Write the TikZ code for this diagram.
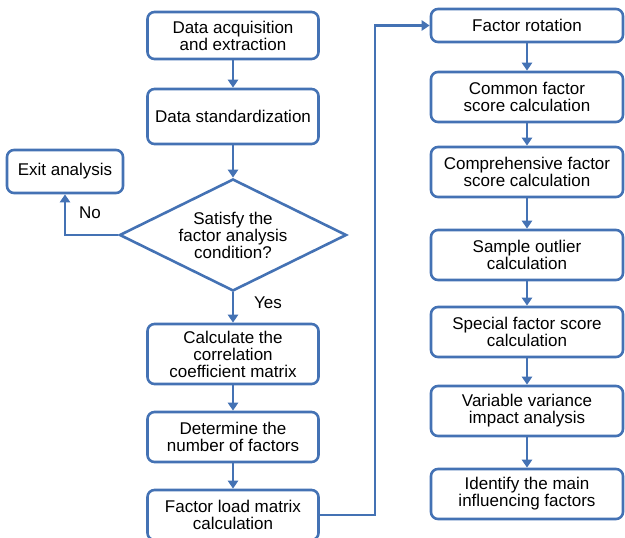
\documentclass[tikz,border=0pt]{standalone}
\usepackage{fontspec}
\setmainfont{Liberation Sans}
\usetikzlibrary{shapes.geometric,arrows.meta}
\definecolor{flowblue}{RGB}{68,114,180}

\begin{document}
\begin{tikzpicture}[x=1pt,y=-1pt]
        \tikzstyle{every node}+=[inner sep=0pt, font=\fontsize{17}{17}\selectfont]
        \tikzstyle{stepbox}=[draw=flowblue, line width=2.6pt, rounded corners=7pt, fill=white, align=center, minimum width=171pt]
        \tikzstyle{rightbox}=[stepbox, minimum width=192pt, minimum height=50pt]
        \tikzstyle{flow}=[draw=flowblue, line width=2.4pt, -{Triangle[length=8pt,width=10pt]}]
        \useasboundingbox (0,0) rectangle (625,538);
        % left column
        \node [stepbox, minimum height=47pt] (acq) at (233,35.5) {Data acquisition\\and extraction};
        \node [stepbox, minimum height=55pt] (std) at (233,116.5) {Data standardization};
        \node [diamond, aspect=2, draw=flowblue, line width=2.6pt, align=center, minimum width=227pt, minimum height=112pt] (cond) at (233,235) {Satisfy the\\factor analysis\\condition?};
        \node [stepbox, minimum width=116pt, minimum height=43pt] (exit) at (65,171.5) {Exit analysis};
        \node [stepbox, minimum height=60pt] (corr) at (233,354) {Calculate the\\correlation\\coefficient matrix};
        \node [stepbox, minimum height=50pt] (num) at (233,437) {Determine the\\number of factors};
        \node [stepbox, minimum height=50pt] (load) at (233,515) {Factor load matrix\\calculation};
        \node (no) at (90,213) {No};
        \node (yes) at (268,303) {Yes};
        % right column
        \node [rightbox, minimum height=33pt] (rot) at (527,25.5) {Factor rotation};
        \node [rightbox] (common) at (527,97) {Common factor\\score calculation};
        \node [rightbox] (compr) at (527,172) {Comprehensive factor\\score calculation};
        \node [rightbox] (outlier) at (527,255) {Sample outlier\\calculation};
        \node [rightbox] (special) at (527,332) {Special factor score\\calculation};
        \node [rightbox] (variance) at (527,411) {Variable variance\\impact analysis};
        \node [rightbox] (identify) at (527,494) {Identify the main\\influencing factors};
        \coordinate (bend) at (375,0);
        % connectors
        \draw [flow] (acq) -- (std);
        \draw [flow] (std) -- (cond);
        \draw [flow] (cond) -- (corr);
        \draw [flow] (cond.west) -| (exit.south);
        \draw [flow] (corr) -- (num);
        \draw [flow] (num) -- (load);
        \draw [flow] (load.east) -- (load.east -| bend) -- (bend |- rot.west) -- (rot.west);
        \foreach \a/\b in {rot/common, common/compr, compr/outlier, outlier/special, special/variance, variance/identify}
            \draw [flow] (\a) -- (\b);
\end{tikzpicture}
\end{document}
